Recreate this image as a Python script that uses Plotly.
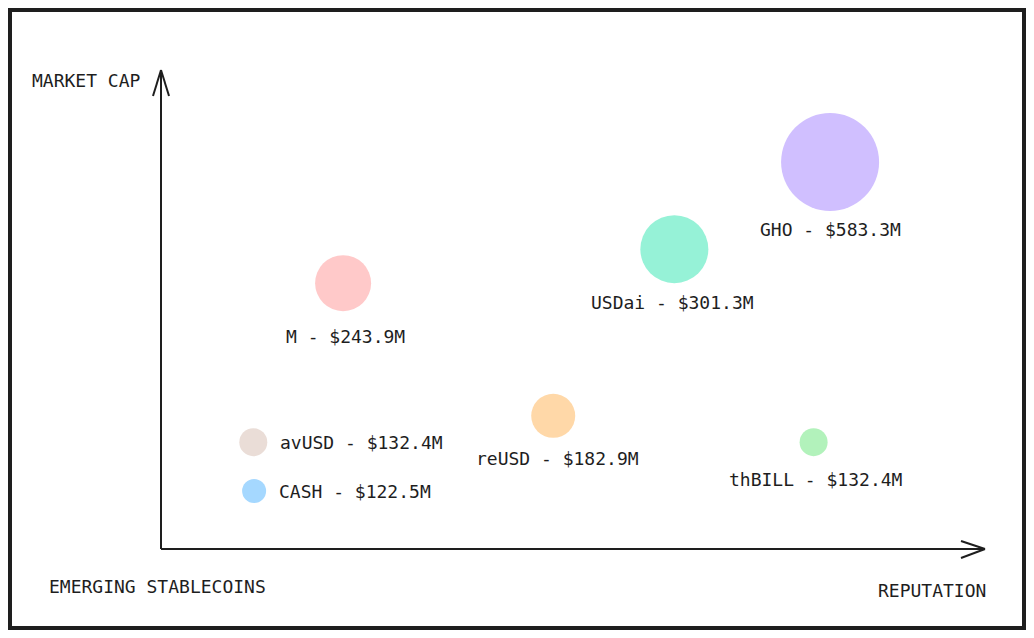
import plotly.graph_objects as go

# ---- data ----
names = ["GHO", "USDai", "M", "reUSD", "avUSD", "CASH", "thBILL"]
market_cap_m = [583.3, 301.3, 243.9, 182.9, 132.4, 122.5, 132.4]
reputation = [81.2, 62.3, 22.1, 47.6, 11.2, 11.3, 79.2]   # x position (0-100)
cap_rank = [80.8, 62.6, 55.5, 27.8, 22.3, 12.1, 22.3]       # y position (0-100)

# ---- styles ----
colors = ["#d0bfff", "#96f2d7", "#ffc9c9", "#ffd8a8", "#eaddd7", "#a5d8ff", "#b2f2bb"]
bubble_px = [98, 68, 56, 44, 28, 24, 28]
label_side = ["below", "below", "below", "below", "right", "right", "below"]
label_dx = [0, -2, 2, 4, 25, 23, 2]
label_dy = [68, 53, 53, 43, 0, 0, 37]

FONT = "DejaVu Sans Mono"
INK = "#1e1e1e"
W, H = 1034, 638
# pixel frame of the axes
X0, X1 = 161, 985
Y0, Y1 = 549, 70
sx = (X1 - X0) / 100.0
sy = (Y0 - Y1) / 100.0

labels = [f"{n} - ${v:.1f}M" for n, v in zip(names, market_cap_m)]

fig = go.Figure()
fig.add_trace(go.Scatter(
    x=reputation, y=cap_rank, mode="markers",
    text=labels,
    marker=dict(size=bubble_px, color=colors, line=dict(width=0), opacity=1),
    hoverinfo="text", showlegend=False, cliponaxis=False,
))

annots = []
for xv, yv, lab, side, dx, dy in zip(reputation, cap_rank, labels, label_side, label_dx, label_dy):
    annots.append(dict(
        x=xv, y=yv, xref="x", yref="y", text=lab, showarrow=False,
        xanchor="center" if side == "below" else "left", yanchor="middle",
        xshift=dx, yshift=-dy,
        font=dict(family=FONT, size=18, color=INK),
    ))

line = dict(color=INK, width=2)
shapes = [
    # border
    dict(type="rect", xref="paper", yref="paper", x0=10 / W, x1=1024 / W,
         y0=1 - 628 / H, y1=1 - 10 / H, line=dict(color=INK, width=4)),
    # axes
    dict(type="line", x0=0, y0=0, x1=0, y1=100, line=line),
    dict(type="line", x0=0, y0=0, x1=100, y1=0, line=line),
    # y arrow head
    dict(type="line", x0=0, y0=100, x1=-8 / sx, y1=100 - 26 / sy, line=line),
    dict(type="line", x0=0, y0=100, x1=8 / sx, y1=100 - 26 / sy, line=line),
    # x arrow head
    dict(type="line", x0=100, y0=0, x1=100 - 24 / sx, y1=8 / sy, line=line),
    dict(type="line", x0=100, y0=0, x1=100 - 24 / sx, y1=-9 / sy, line=line),
]

titles = [
    dict(text="MARKET CAP", x=30 / W, y=1 - 81 / H, xanchor="left", yanchor="middle"),
    dict(text="EMERGING STABLECOINS", x=47 / W, y=1 - 586 / H, xanchor="left", yanchor="middle"),
    dict(text="REPUTATION", x=988 / W, y=1 - 590 / H, xanchor="right", yanchor="middle"),
]
for a in titles:
    a.update(xref="paper", yref="paper", showarrow=False,
             font=dict(family=FONT, size=18, color=INK))
annots.extend(titles)

fig.update_layout(
    width=W, height=H, margin=dict(l=0, r=0, t=0, b=0),
    paper_bgcolor="white", plot_bgcolor="white",
    xaxis=dict(range=[-X0 / sx, (W - X0) / sx], visible=False, fixedrange=True),
    yaxis=dict(range=[-(H - Y0) / sy, Y0 / sy], visible=False, fixedrange=True),
    shapes=shapes, annotations=annots,
)

fig.write_html("out.html", config={"displayModeBar": False},
               post_script="document.body.style.margin='0';")
